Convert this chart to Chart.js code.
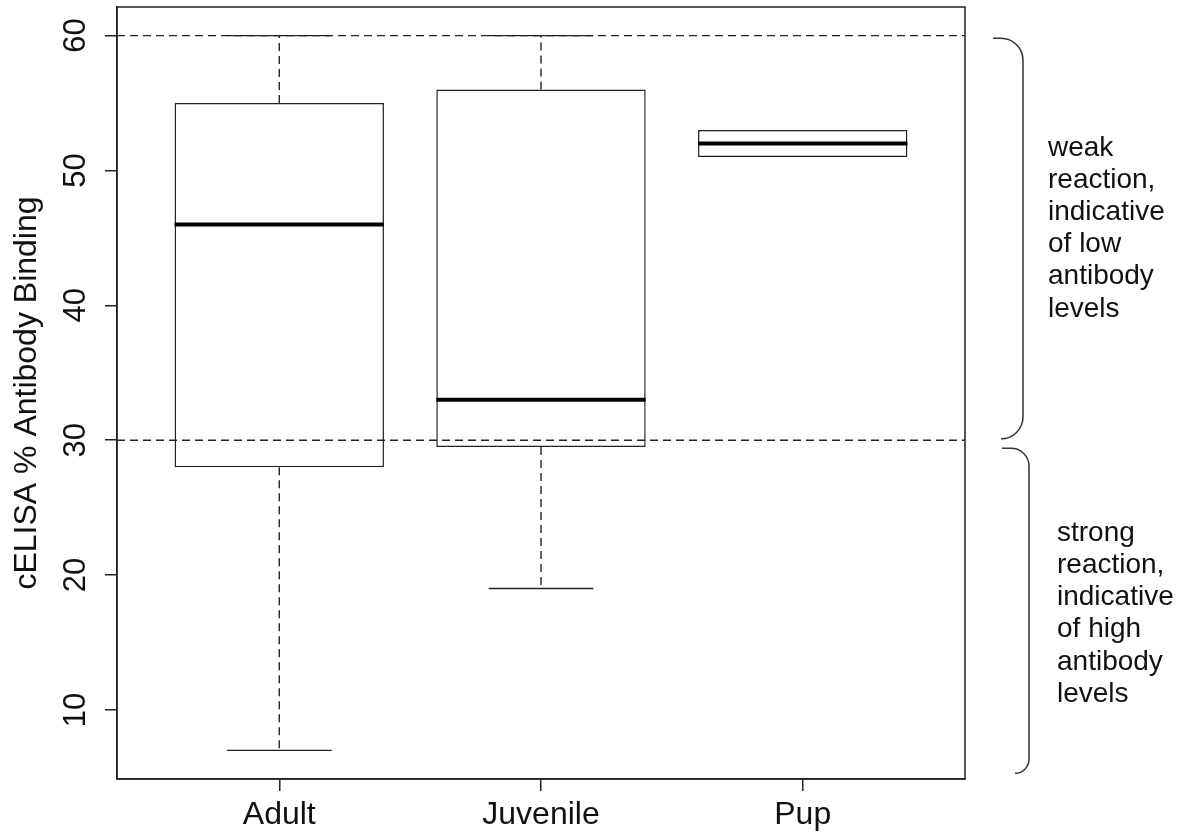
<!DOCTYPE html>
<html>
<head>
<meta charset="utf-8">
<script src="https://cdn.jsdelivr.net/npm/chart.js@4.4.1/dist/chart.umd.min.js"></script>
<style>
  html, body { margin: 0; padding: 0; background: #fff; }
  #wrap { width: 1185px; height: 836px; }
</style>
</head>
<body>
<div id="wrap"><canvas id="boxChart"></canvas></div>
<script>
// five-number summaries
const groups = ['Adult', 'Juvenile', 'Pup'];
const whiskerLow = [7, 19, 51];
const lowerQuartile = [28, 29.5, 51];
const medians = [46, 33, 52];
const upperQuartile = [55, 56, 53];
const whiskerHigh = [60, 60, 53];
const yTicks = [10, 20, 30, 40, 50, 60];
const refLines = [30, 60];
const weakText = ['weak', 'reaction,', 'indicative', 'of low', 'antibody', 'levels'];
const strongText = ['strong', 'reaction,', 'indicative', 'of high', 'antibody', 'levels'];

const FONT = '"Liberation Sans", Arial, sans-serif';
const INK = '#222';
const X_MIN = 0.38, X_MAX = 3.62;
const Y_MIN = 4.88, Y_MAX = 62.12;

const boxData = groups.map((g, i) => ({ x: i + 1, y: [lowerQuartile[i], upperQuartile[i]] }));
const refSets = refLines.map(v => ({
    type: 'line',
    data: [{ x: X_MIN, y: v }, { x: X_MAX, y: v }],
    borderColor: INK,
    borderWidth: 1.4,
    borderDash: [8, 5],
    pointRadius: 0,
    order: 0
}));

// whiskers, caps, medians, rotated y labels, frame and braces
const boxParts = {
    id: 'boxParts',
    beforeDatasetsDraw(chart) {
        const { ctx, scales: { x, y } } = chart;
        ctx.save();
        ctx.strokeStyle = INK;
        ctx.lineWidth = 1.4;
        groups.forEach((g, i) => {
            const cx = x.getPixelForValue(i + 1);
            ctx.setLineDash([8, 5]);
            ctx.beginPath();
            ctx.moveTo(cx, y.getPixelForValue(upperQuartile[i]));
            ctx.lineTo(cx, y.getPixelForValue(whiskerHigh[i]));
            ctx.moveTo(cx, y.getPixelForValue(lowerQuartile[i]));
            ctx.lineTo(cx, y.getPixelForValue(whiskerLow[i]));
            ctx.stroke();
            ctx.setLineDash([]);
            if (whiskerHigh[i] > upperQuartile[i] || whiskerLow[i] < lowerQuartile[i]) {
                const x0 = x.getPixelForValue(i + 1 - 0.2), x1 = x.getPixelForValue(i + 1 + 0.2);
                ctx.beginPath();
                ctx.moveTo(x0, y.getPixelForValue(whiskerHigh[i]));
                ctx.lineTo(x1, y.getPixelForValue(whiskerHigh[i]));
                ctx.moveTo(x0, y.getPixelForValue(whiskerLow[i]));
                ctx.lineTo(x1, y.getPixelForValue(whiskerLow[i]));
                ctx.stroke();
            }
        });
        ctx.restore();
    },
    afterDatasetDraw(chart, args) {
        if (args.index !== 0) return;
        const { ctx, scales: { x, y } } = chart;
        ctx.save();
        ctx.strokeStyle = '#000';
        ctx.lineWidth = 4;
        groups.forEach((g, i) => {
            const my = y.getPixelForValue(medians[i]);
            ctx.beginPath();
            ctx.moveTo(x.getPixelForValue(i + 1 - 0.4), my);
            ctx.lineTo(x.getPixelForValue(i + 1 + 0.4), my);
            ctx.stroke();
        });
        ctx.restore();
    },
    afterDraw(chart) {
        const { ctx, chartArea: a, scales: { y } } = chart;
        ctx.save();
        // frame
        ctx.strokeStyle = INK;
        ctx.lineWidth = 1.5;
        ctx.strokeRect(a.left, a.top, a.right - a.left, a.bottom - a.top);

        // rotated y tick labels
        ctx.fillStyle = '#111';
        ctx.font = '31px ' + FONT;
        ctx.textAlign = 'center';
        ctx.textBaseline = 'middle';
        y.ticks.forEach(t => {
            ctx.save();
            ctx.translate(a.left - 41, y.getPixelForValue(t.value));
            ctx.rotate(-Math.PI / 2);
            ctx.fillText(String(t.value), 0, 0);
            ctx.restore();
        });

        // braces on the right
        function brace(yTop, yBot, xTop, xBot, xV, rTop, rBot) {
            ctx.beginPath();
            ctx.moveTo(xTop, yTop);
            ctx.arcTo(xV, yTop, xV, yBot, rTop);
            ctx.arcTo(xV, yBot, xBot, yBot, rBot);
            ctx.lineTo(xBot, yBot);
            ctx.stroke();
        }
        ctx.strokeStyle = '#333';
        ctx.lineWidth = 1.5;
        brace(y.getPixelForValue(59.8), y.getPixelForValue(30.1), a.right + 28, a.right + 38, a.right + 58, 22, 22);
        brace(y.getPixelForValue(29.4), y.getPixelForValue(5.3), a.right + 37, a.right + 50, a.right + 64, 18, 14);

        // annotation text
        ctx.fillStyle = '#111';
        ctx.font = '28px ' + FONT;
        ctx.textAlign = 'left';
        function block(lines, centerVal, xLeft) {
            const cy = y.getPixelForValue(centerVal);
            const step = 32.2;
            lines.forEach((s, k) => {
                ctx.fillText(s, xLeft, cy + (k - (lines.length - 1) / 2) * step);
            });
        }
        block(weakText, 45.7, a.right + 83);
        block(strongText, 17.15, a.right + 92);
        ctx.restore();
    }
};

const ctx = document.getElementById('boxChart').getContext('2d');
new Chart(ctx, {
    data: {
        datasets: [{
            type: 'bar',
            data: boxData,
            backgroundColor: '#fff',
            borderColor: INK,
            borderWidth: 1.5,
            borderSkipped: false,
            barPercentage: 0.8,
            categoryPercentage: 1,
            order: 1
        }].concat(refSets)
    },
    options: {
        responsive: true,
        maintainAspectRatio: false,
        animation: false,
        layout: { padding: { left: 0, right: 220, top: 7, bottom: 0 } },
        plugins: {
            legend: { display: false },
            tooltip: { enabled: false }
        },
        scales: {
            x: {
                type: 'linear',
                min: X_MIN,
                max: X_MAX,
                offset: false,
                afterBuildTicks: s => { s.ticks = groups.map((g, i) => ({ value: i + 1 })); },
                afterFit: s => { s.height = 57; },
                grid: { offset: false, drawOnChartArea: false, drawTicks: true, tickLength: 12, color: INK, lineWidth: 1.5 },
                border: { display: true, color: INK, width: 1.5 },
                ticks: {
                    callback: v => groups[v - 1],
                    color: '#111',
                    font: { family: FONT, size: 32 },
                    padding: 5,
                    maxRotation: 0,
                    autoSkip: false
                }
            },
            y: {
                type: 'linear',
                min: Y_MIN,
                max: Y_MAX,
                afterBuildTicks: s => { s.ticks = yTicks.map(v => ({ value: v })); },
                afterFit: s => { s.width = 117; },
                grid: { drawOnChartArea: false, drawTicks: true, tickLength: 12, color: INK, lineWidth: 1.5 },
                border: { display: true, color: INK, width: 1.5 },
                ticks: { display: false },
                title: {
                    display: true,
                    text: 'cELISA % Antibody Binding',
                    color: '#111',
                    font: { family: FONT, size: 32 },
                    padding: { top: 8, bottom: 0 }
                }
            }
        }
    },
    plugins: [boxParts]
});
</script>
</body>
</html>
